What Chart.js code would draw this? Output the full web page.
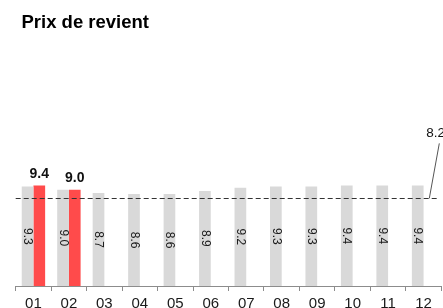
<!DOCTYPE html>
<html><head><meta charset="utf-8">
<script src="https://cdn.jsdelivr.net/npm/chart.js@4/dist/chart.umd.min.js"></script>
<style>
html,body{margin:0;padding:0;background:#fff;overflow:hidden}
#wrap{width:443px;height:308px;overflow:hidden;position:relative}
canvas{display:block}
</style></head>
<body><div id="wrap"><canvas id="c" width="443" height="317"></canvas></div>
<script>
const chartTitle = 'Prix de revient';
const categories = ['01','02','03','04','05','06','07','08','09','10','11','12'];
const seriesGray = [9.3, 9.0, 8.7, 8.6, 8.6, 8.9, 9.2, 9.3, 9.3, 9.4, 9.4, 9.4];
const seriesRed = [9.4, 9.0, null, null, null, null, null, null, null, null, null, null];
const referenceValue = 8.2;
const yMax = 16;

const FONT = '"Liberation Sans", Arial, sans-serif';

const labelsPlugin = {
  id: 'labels',
  afterDatasetsDraw(chart) {
    const ctx = chart.ctx;
    const y = chart.scales.y;
    const area = chart.chartArea;
    ctx.save();
    // reference line
    const ry = y.getPixelForValue(referenceValue);
    ctx.strokeStyle = '#333';
    ctx.lineWidth = 1;
    ctx.setLineDash([5, 3]);
    ctx.beginPath();
    ctx.moveTo(area.left, Math.round(ry) + 0.5);
    ctx.lineTo(area.right - 3, Math.round(ry) + 0.5);
    ctx.stroke();
    ctx.setLineDash([]);
    ctx.strokeStyle = '#555';
    ctx.beginPath();
    ctx.moveTo(area.right - 12, ry);
    ctx.lineTo(area.right - 2, ry - 55);
    ctx.stroke();
    ctx.fillStyle = '#111';
    ctx.font = '13.5px ' + FONT;
    ctx.textAlign = 'left';
    ctx.textBaseline = 'alphabetic';
    ctx.fillText(referenceValue.toFixed(1), area.right - 15, ry - 61);

    // gray labels, rotated inside bars
    const m0 = chart.getDatasetMeta(0);
    ctx.font = '12px ' + FONT;
    ctx.fillStyle = '#1a1a1a';
    m0.data.forEach((bar, i) => {
      const v = seriesGray[i];
      if (v == null) return;
      const cy = (bar.y + bar.base) / 2;
      ctx.save();
      ctx.translate(bar.x, cy);
      ctx.rotate(Math.PI / 2);
      ctx.textAlign = 'center';
      ctx.textBaseline = 'middle';
      ctx.fillText(v.toFixed(1), 0, 0);
      ctx.restore();
    });
    // red labels above bars
    const m1 = chart.getDatasetMeta(1);
    ctx.font = 'bold 14px ' + FONT;
    ctx.fillStyle = '#111';
    ctx.textAlign = 'center';
    ctx.textBaseline = 'alphabetic';
    m1.data.forEach((bar, i) => {
      const v = seriesRed[i];
      if (v == null) return;
      ctx.fillText(v.toFixed(1), bar.x, bar.y - 8);
    });
    // title
    ctx.font = 'bold 18.5px ' + FONT;
    ctx.textAlign = 'left';
    ctx.fillStyle = '#000';
    ctx.fillText(chartTitle, 21.5, 28.3);
    ctx.restore();
  }
};

new Chart(document.getElementById('c'), {
  type: 'bar',
  data: {
    labels: categories,
    datasets: [
      { data: seriesGray, backgroundColor: '#d9d9d9', borderWidth: 0 },
      { data: seriesRed, backgroundColor: '#ff4b4b', borderWidth: 0 }
    ]
  },
  options: {
    responsive: false,
    devicePixelRatio: 1,
    animation: false,
    categoryPercentage: 0.66,
    barPercentage: 1.0,
    layout: { padding: { top: 115, left: 15.7, right: 1.7, bottom: 0 } },
    plugins: { legend: { display: false }, tooltip: { enabled: false }, title: { display: false } },
    scales: {
      x: {
        grid: { display: true, drawOnChartArea: false, tickLength: 5, color: '#8c8c8c', offset: true },
        border: { display: true, color: '#8c8c8c' },
        ticks: { font: { size: 15, family: FONT }, color: '#1a1a1a', padding: 4 }
      },
      y: { display: false, min: 0, max: yMax }
    }
  },
  plugins: [labelsPlugin]
});
</script>
</body></html>
